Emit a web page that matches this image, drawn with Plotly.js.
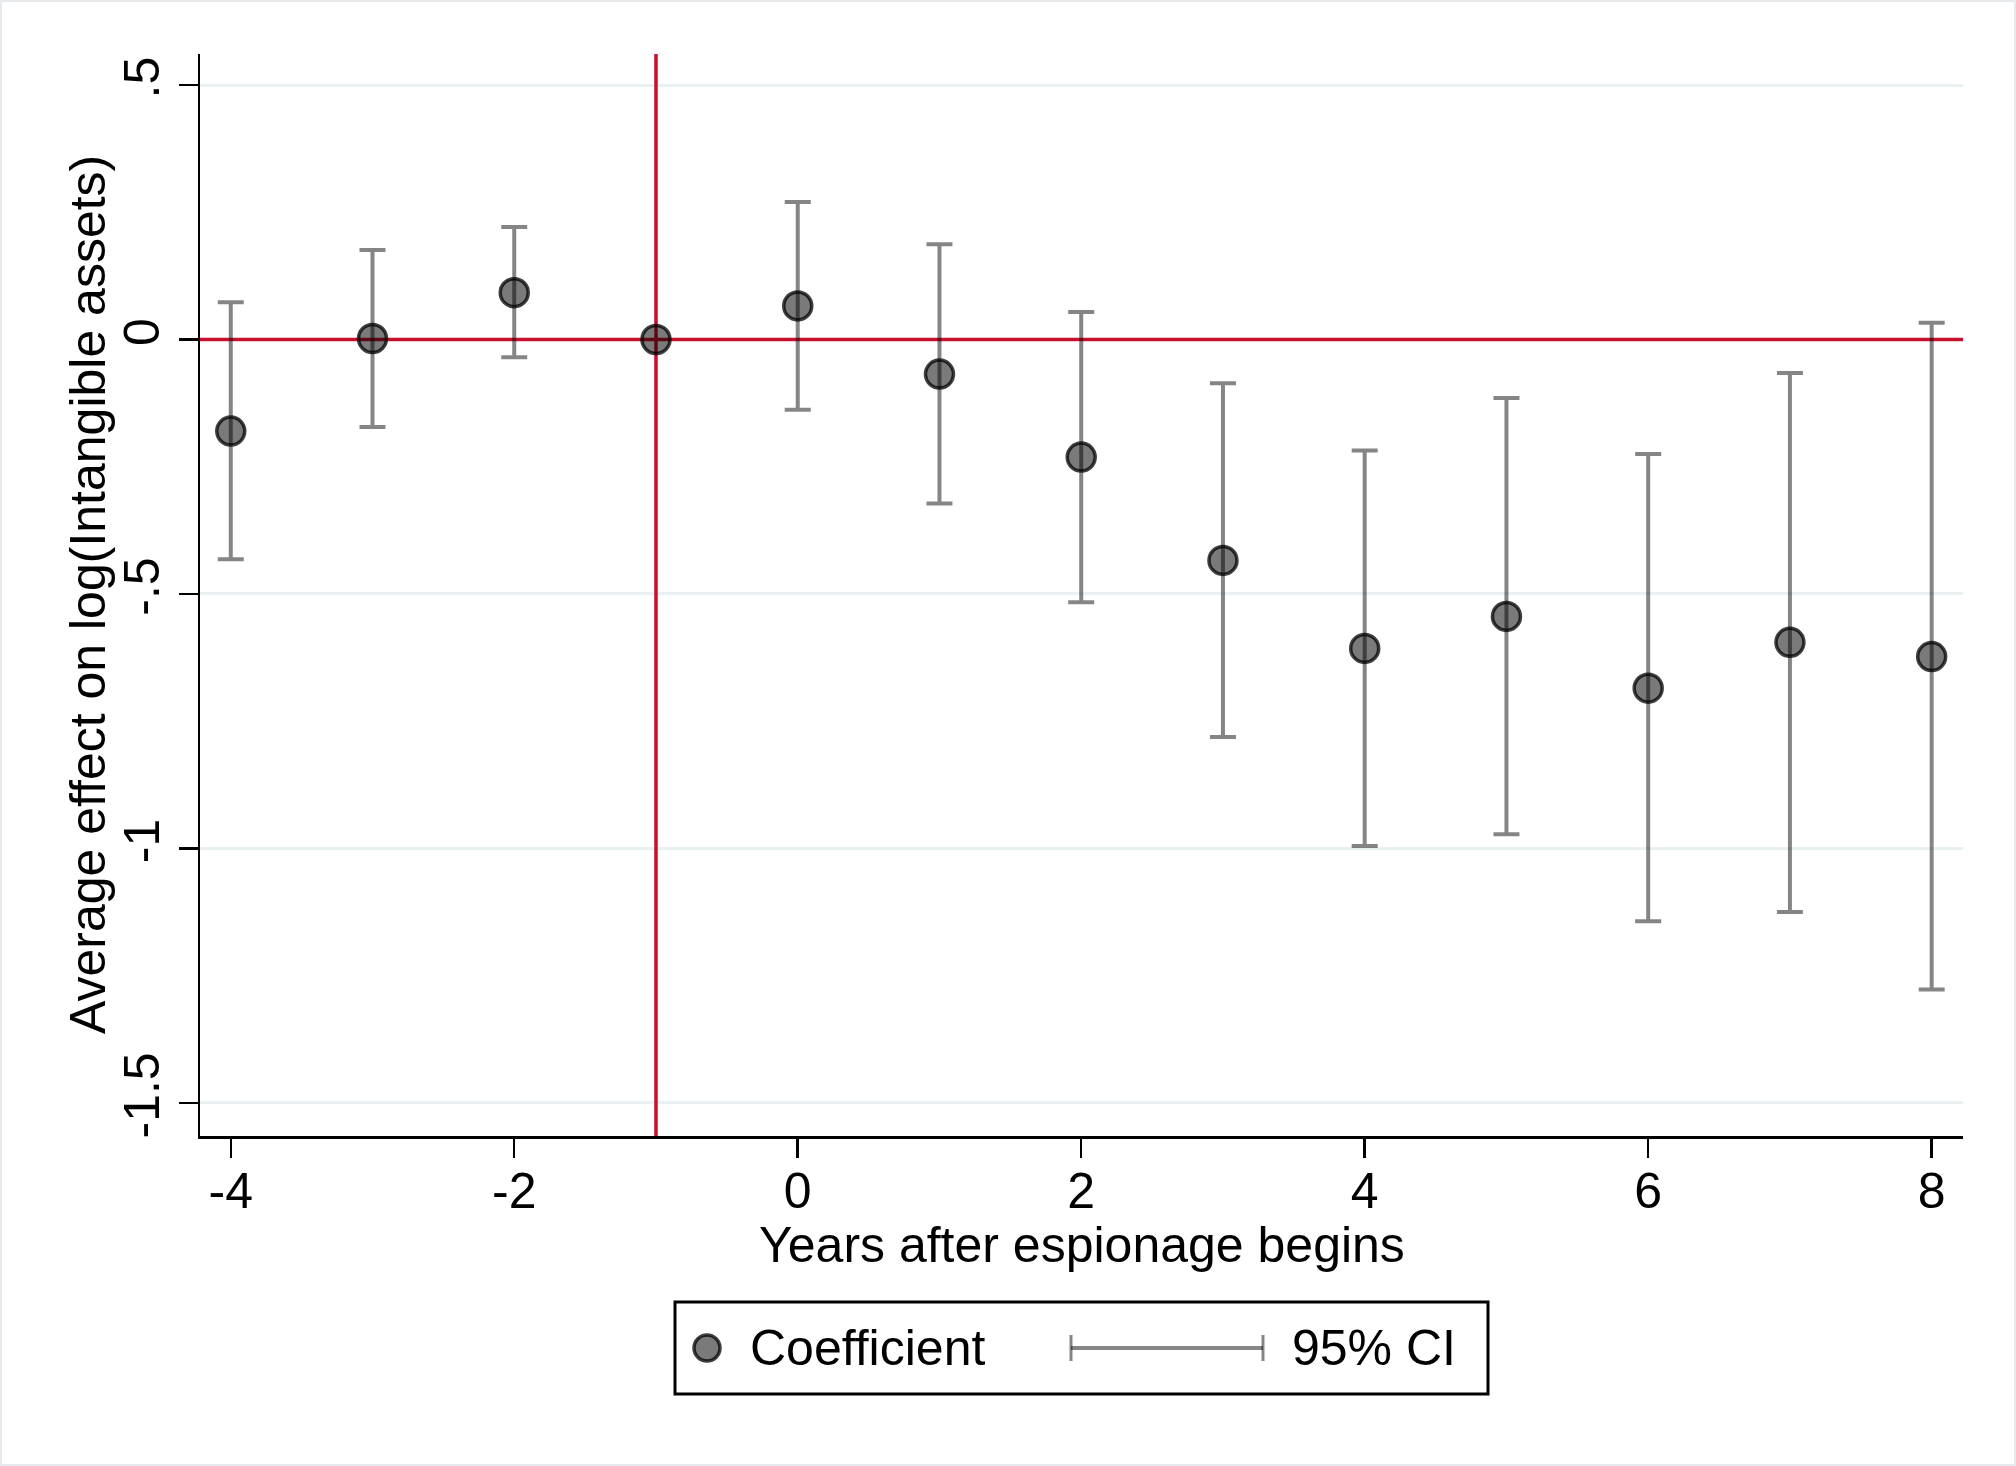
<!DOCTYPE html>
<html>
<head>
<meta charset="utf-8">
<script src="https://cdn.plot.ly/plotly-3.0.1.min.js"></script>
<style>
  html, body { margin: 0; padding: 0; background: #fff; }
  #chart { width: 2016px; height: 1466px; }
</style>
</head>
<body>
<div id="chart"></div>
<script>
// ── Datos ────────────────────────────────────────────────────────────────────
const years = [-4, -3, -2, -1, 0, 1, 2, 3, 4, 5, 6, 7, 8];
const coef  = [-0.180, 0.002, 0.092, 0.000, 0.066, -0.068, -0.231, -0.434, -0.607, -0.544, -0.685, -0.595, -0.623];
const ciLo  = [-0.432, -0.172, -0.035, null, -0.138, -0.322, -0.516, -0.781, -0.995, -0.972, -1.143, -1.125, -1.277];
const ciHi  = [0.073, 0.176, 0.221, null, 0.270, 0.187, 0.054, -0.086, -0.218, -0.115, -0.225, -0.066, 0.033];

const xTicks = [-4, -2, 0, 2, 4, 6, 8];
const xTickText = ['-4', '-2', '0', '2', '4', '6', '8'];
const yTicks = [-1.5, -1, -0.5, 0, 0.5];
const yTickText = ['-1.5', '-1', '-.5', '0', '.5'];

const X_RANGE = [-4.217, 8.221];
const Y_RANGE = [-1.565, 0.561];

const REF_X = -1;   // año de referencia
const REF_Y = 0;

// ── Estilo ───────────────────────────────────────────────────────────────────
const C = {
  red:   '#c8102e',
  grid:  '#eaf1f3',
  err:   'rgba(0,0,0,0.48)',
  fill:  'rgba(0,0,0,0.52)',
  edge:  'rgba(0,0,0,0.75)',
  frame: '#e6eaec',
};
const FONT = 'Liberation Sans, Arial, Helvetica, sans-serif';

const W = 2016, H = 1466;
const M = { l: 200, r: 53, t: 54, b: 330 };
const PW = W - M.l - M.r, PH = H - M.t - M.b;

// píxeles de la figura → coordenadas paper
const px = x => (x - M.l) / PW;
const py = y => (M.t + PH - y) / PH;

const errPlus  = coef.map((c, i) => ciHi[i] == null ? NaN : ciHi[i] - c);
const errMinus = coef.map((c, i) => ciLo[i] == null ? NaN : c - ciLo[i]);

const trace = {
  type: 'scatter', mode: 'markers',
  x: years, y: coef,
  marker: { size: 28, color: C.fill, line: { color: C.edge, width: 3.5 } },
  error_y: {
    type: 'data', symmetric: false,
    array: errPlus, arrayminus: errMinus,
    color: C.err, thickness: 4, width: 13,
  },
  showlegend: false, hoverinfo: 'skip',
};

// ── Líneas de referencia y leyenda dibujada a mano (estilo Stata) ────────────
const legY = py(1348);
const shapes = [
  { type: 'line', xref: 'x', yref: 'y', x0: REF_X, x1: REF_X, y0: Y_RANGE[0], y1: Y_RANGE[1],
    line: { color: C.red, width: 3.5 }, layer: 'between' },
  { type: 'line', xref: 'x', yref: 'y', x0: X_RANGE[0], x1: X_RANGE[1], y0: REF_Y, y1: REF_Y,
    line: { color: C.red, width: 3.5 }, layer: 'between' },
  // marco exterior
  { type: 'rect', xref: 'paper', yref: 'paper', x0: px(1), x1: px(W - 1), y0: py(H - 1), y1: py(1),
    line: { color: C.frame, width: 2 } },
  // caja de la leyenda
  { type: 'rect', xref: 'paper', yref: 'paper', x0: px(675), x1: px(1488), y0: py(1394), y1: py(1302),
    line: { color: '#000', width: 3 }, fillcolor: '#fff' },
  { type: 'circle', xref: 'paper', yref: 'paper', xsizemode: 'pixel', ysizemode: 'pixel',
    xanchor: px(707), yanchor: legY, x0: -13, x1: 13, y0: -13, y1: 13,
    fillcolor: C.fill, line: { color: C.edge, width: 3.5 } },
  { type: 'line', xref: 'paper', yref: 'paper', x0: px(1071), x1: px(1263), y0: legY, y1: legY,
    line: { color: C.err, width: 4 } },
  { type: 'line', xref: 'paper', yref: 'paper', x0: px(1071), x1: px(1071), y0: py(1335), y1: py(1361),
    line: { color: C.err, width: 3 } },
  { type: 'line', xref: 'paper', yref: 'paper', x0: px(1263), x1: px(1263), y0: py(1335), y1: py(1361),
    line: { color: C.err, width: 3 } },
];

const txt = { family: FONT, size: 50, color: '#000' };
const annotations = [
  // títulos de ejes
  { xref: 'paper', yref: 'paper', x: 0.5, y: py(1245), xanchor: 'center', yanchor: 'middle',
    text: 'Years after espionage begins', showarrow: false, font: txt },
  { xref: 'paper', yref: 'paper', x: px(88), y: 0.5, xanchor: 'center', yanchor: 'middle',
    textangle: -90, text: 'Average effect on log(Intangible assets)', showarrow: false, font: txt },
  // leyenda
  { xref: 'paper', yref: 'paper', x: px(748), y: legY, xanchor: 'left', yanchor: 'middle',
    text: 'Coefficient', showarrow: false, font: txt },
  { xref: 'paper', yref: 'paper', x: px(1290), y: legY, xanchor: 'left', yanchor: 'middle',
    text: '95% CI', showarrow: false, font: txt },
];

const axisBase = {
  showline: true, linecolor: '#000', linewidth: 2.5, mirror: false,
  ticks: 'outside', ticklen: 19, tickwidth: 2.5, tickcolor: '#000',
  zeroline: false, tickfont: txt, tickmode: 'array',
  fixedrange: true,
};

const layout = {
  width: W, height: H,
  margin: M,
  paper_bgcolor: '#fff', plot_bgcolor: '#fff',
  font: txt,
  showlegend: false,
  xaxis: Object.assign({}, axisBase, {
    range: X_RANGE,
    tickvals: xTicks, ticktext: xTickText,
    ticklabelstandoff: -10,
    showgrid: false,
  }),
  yaxis: Object.assign({}, axisBase, {
    range: Y_RANGE,
    tickvals: yTicks, ticktext: yTickText,
    tickangle: -90,
    showgrid: true, gridcolor: C.grid, gridwidth: 3,
  }),
  shapes, annotations,
};

Plotly.newPlot('chart', [trace], layout, { displayModeBar: false, staticPlot: true });
</script>
</body>
</html>
